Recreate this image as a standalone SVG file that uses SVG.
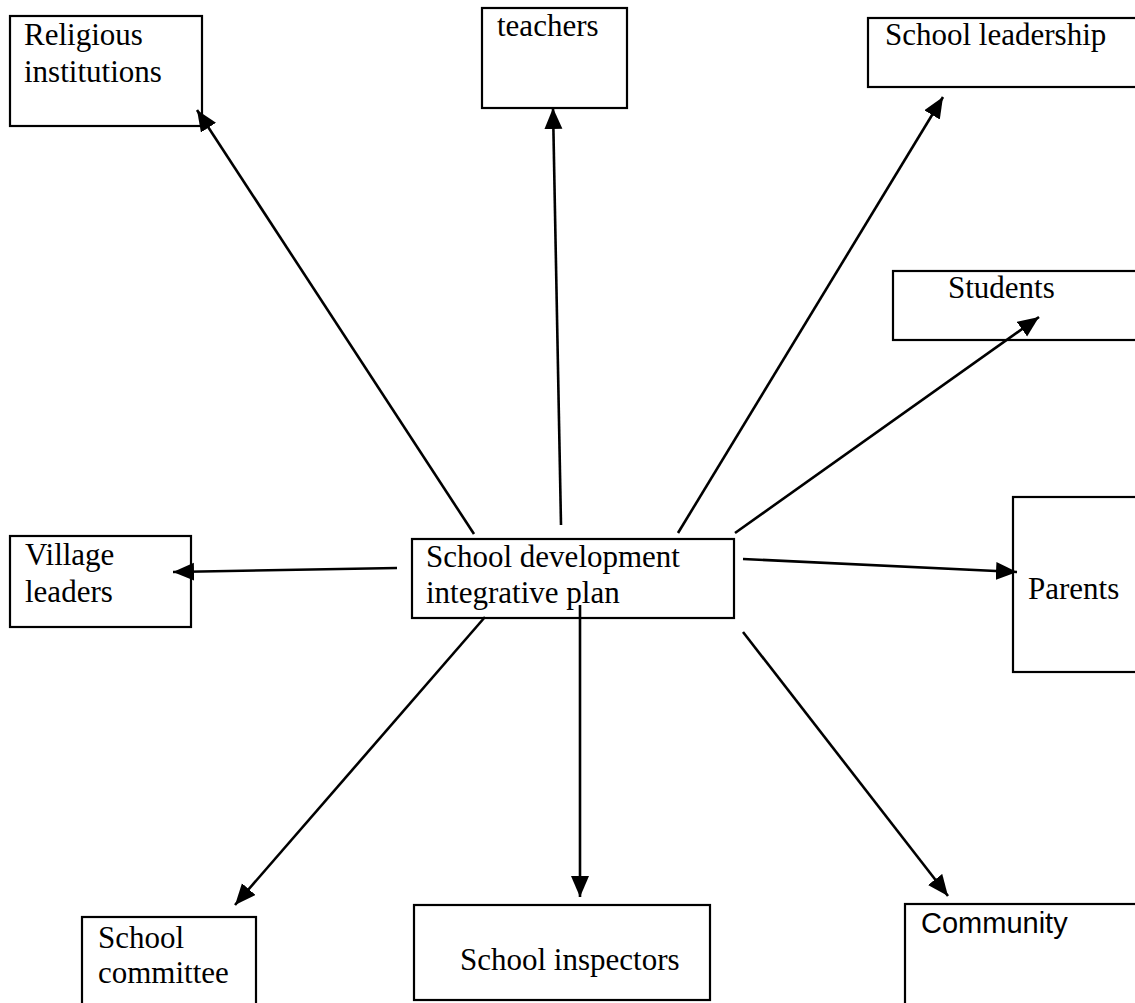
<svg xmlns="http://www.w3.org/2000/svg" width="1135" height="1003" viewBox="0 0 1135 1003">
<style>
.box{fill:#fff;stroke:#000;stroke-width:2.2}
.t{font-family:'Liberation Serif','DejaVu Serif',serif;font-size:31px;fill:#000}
.s{font-family:'Liberation Sans',Arial,sans-serif;font-size:29px;fill:#000}
.c{stroke:#000;stroke-width:2.6;fill:none;marker-end:url(#ah)}
</style>
<defs>
<marker id="ah" markerUnits="userSpaceOnUse" markerWidth="24" markerHeight="20" refX="21" refY="9" orient="auto">
<path d="M0,0 L21,9 L0,18 z" fill="#000"/>
</marker>
</defs>
<rect width="1135" height="1003" fill="#fff"/>
<g id="religious"><rect class="box" x="10" y="16" width="192" height="110"/><text class="t" x="24" y="45">Religious</text><text class="t" x="24" y="82">institutions</text></g>
<g id="teachers"><rect class="box" x="482" y="8" width="145" height="100"/><text class="t" x="497" y="36">teachers</text></g>
<g id="leadership"><rect class="box" x="868" y="18" width="272" height="69"/><text class="t" x="885" y="45">School leadership</text></g>
<g id="students"><rect class="box" x="893" y="271" width="247" height="69"/><text class="t" x="948" y="298">Students</text></g>
<g id="village"><rect class="box" x="10" y="536" width="181" height="91"/><text class="t" x="25" y="565">Village</text><text class="t" x="25" y="602">leaders</text></g>
<g id="center"><rect class="box" x="412" y="539" width="322" height="79"/><text class="t" x="426" y="567">School development</text><text class="t" x="426" y="603">integrative plan</text></g>
<g id="parents"><rect class="box" x="1013" y="497" width="127" height="175"/><text class="t" x="1028" y="599">Parents</text></g>
<g id="committee"><rect class="box" x="82" y="917" width="174" height="95"/><text class="t" x="98" y="948">School</text><text class="t" x="98" y="983">committee</text></g>
<g id="inspectors"><rect class="box" x="414" y="905" width="296" height="95"/><text class="t" x="460" y="970">School inspectors</text></g>
<g id="community"><rect class="box" x="905" y="904" width="235" height="110"/><text class="s" x="921" y="933">Community</text></g>
<g id="connectors">
<line class="c" x1="474" y1="534" x2="197" y2="110"/>
<line class="c" x1="561" y1="525" x2="553" y2="108"/>
<line class="c" x1="678" y1="533" x2="943" y2="97"/>
<line class="c" x1="735" y1="533" x2="1039" y2="317"/>
<line class="c" x1="397" y1="568" x2="173" y2="572"/>
<line class="c" x1="743" y1="559" x2="1017" y2="572"/>
<line class="c" x1="485" y1="617" x2="235" y2="905"/>
<line class="c" x1="580" y1="605" x2="580" y2="897"/>
<line class="c" x1="743" y1="632" x2="948" y2="896"/>
</g>
</svg>
